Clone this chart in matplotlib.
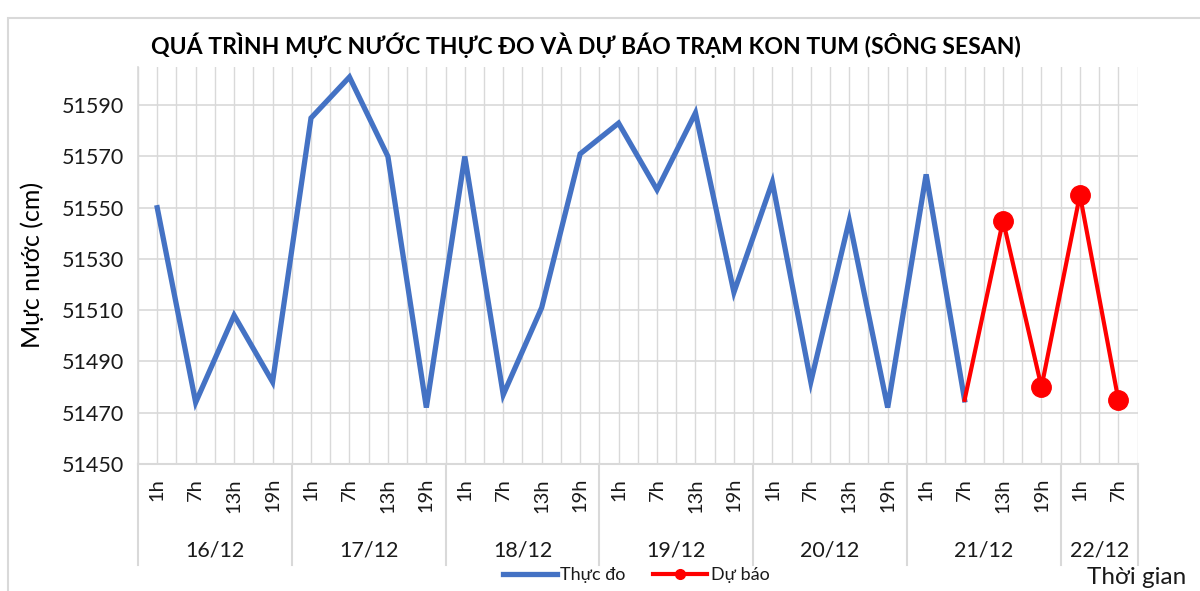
import matplotlib
matplotlib.use("Agg")
import matplotlib.pyplot as plt
from matplotlib import font_manager
from matplotlib.lines import Line2D
from matplotlib.patches import Rectangle

names = {f.name for f in font_manager.fontManager.ttflist}
FONT = "Lato" if "Lato" in names else "DejaVu Sans"
plt.rcParams['font.family'] = [FONT, 'DejaVu Sans']

days = ["16/12", "17/12", "18/12", "19/12", "20/12", "21/12", "22/12"]
hours_per_day = [["1h", "7h", "13h", "19h"]] * 6 + [["1h", "7h"]]
observed = [51550, 51474, 51508, 51482,
            51585, 51601, 51570, 51472,
            51570, 51477, 51511, 51571,
            51583, 51557, 51587, 51517,
            51560, 51482, 51545, 51472,
            51563, 51475]
forecast = [51475, 51545, 51480, 51555, 51475]  # from 21/12 7h to 22/12 7h

hour_labels = [h for hs in hours_per_day for h in hs]
n = len(hour_labels)
xs = list(range(n))

fig = plt.figure(figsize=(12, 5.91), dpi=100)
ax = fig.add_axes([0.115, 0.215, 0.833, 0.672])

# chart border
fig.patches.append(Rectangle((8/1200, -0.01), 1.1, 0.99 - 12/591 + 0.01,
                             transform=fig.transFigure, fill=False,
                             edgecolor="#d9d9d9", linewidth=1.5))

ax.set_xlim(-0.5, n - 0.5)
ax.set_ylim(51450, 51605)
ax.set_yticks(range(51450, 51591, 20))
ax.tick_params(axis='y', length=0, labelsize=15.5, pad=10, labelcolor="#1a1a1a")
for y in range(51470, 51591, 20):
    ax.axhline(y, color="#d9d9d9", linewidth=1.2, zorder=0)
for i in range(2 * n + 1):
    ax.axvline(-0.5 + i * 0.5, color="#d9d9d9", linewidth=1.0, zorder=0)
for s in ["top", "right"]:
    ax.spines[s].set_visible(False)
ax.spines["left"].set_color("#d9d9d9")
ax.spines["bottom"].set_color("#d9d9d9")
ax.spines["left"].set_linewidth(1.2)
ax.spines["bottom"].set_linewidth(1.5)

ax.set_xticks(xs)
ax.set_xticklabels([])
ax.tick_params(axis='x', length=0)

# hour labels
for x, h in zip(xs, hour_labels):
    ax.annotate(h, xy=(x, 0), xycoords=('data', 'axes fraction'),
                xytext=(0, -14), textcoords='offset pixels',
                rotation=90, ha='center', va='top', fontsize=14.5, color="#1a1a1a")

# day group labels and separators
start = 0
bounds = [-0.5]
for d, hs in zip(days, hours_per_day):
    end = start + len(hs)
    center = (start + end - 1) / 2
    ax.annotate(d, xy=(center, 0), xycoords=('data', 'axes fraction'),
                xytext=(0, -87), textcoords='offset pixels',
                ha='center', va='center', fontsize=15.5, color="#1a1a1a")
    bounds.append(end - 0.5)
    start = end
for b in bounds:
    ax.add_line(Line2D([b, b], [0, -101 / (0.672 * 591)],
                       transform=ax.get_xaxis_transform(), color="#d9d9d9",
                       linewidth=1.5, clip_on=False))

ox = list(range(len(observed)))
ax.plot(ox, observed, color="#4472c4", linewidth=3.8, solid_joinstyle='miter',
        label="Thực đo", zorder=3)
fx = list(range(len(observed) - 1, len(observed) - 1 + len(forecast)))
ax.plot(fx, forecast, color="#ff0000", linewidth=3.0, zorder=4)
ax.plot(fx[1:], forecast[1:], color="#ff0000", linestyle='none', marker='o',
        markersize=14, zorder=5)

ax.set_ylabel("Mực nước (cm)", fontsize=18, color="#000000")
ax.yaxis.set_label_coords(-0.094, 0.5)

fig.text(586 / 1200, 1 - 45 / 591,
         "QUÁ TRÌNH MỰC NƯỚC THỰC ĐO VÀ DỰ BÁO TRẠM KON TUM (SÔNG SESAN)",
         ha='center', va='center', fontsize=16.6, fontweight='bold',
         color="#000000")

handles = [Line2D([], [], color="#4472c4", linewidth=3.8),
           Line2D([], [], color="#ff0000", linewidth=3.0, marker='o', markersize=7)]
fig.legend(handles, ["Thực đo", "Dự báo"], loc='center',
           bbox_to_anchor=(636 / 1200, 1 - 575 / 591), ncol=2, frameon=False,
           fontsize=13, handlelength=3.0, handletextpad=0.2, columnspacing=1.5,
           labelcolor="#1a1a1a")

fig.text(1087 / 1200, 1 - 577 / 591, "Thời gian", ha='left', va='center',
         fontsize=17.5, color="#1a1a1a")

fig.savefig("out.png", dpi=100)
